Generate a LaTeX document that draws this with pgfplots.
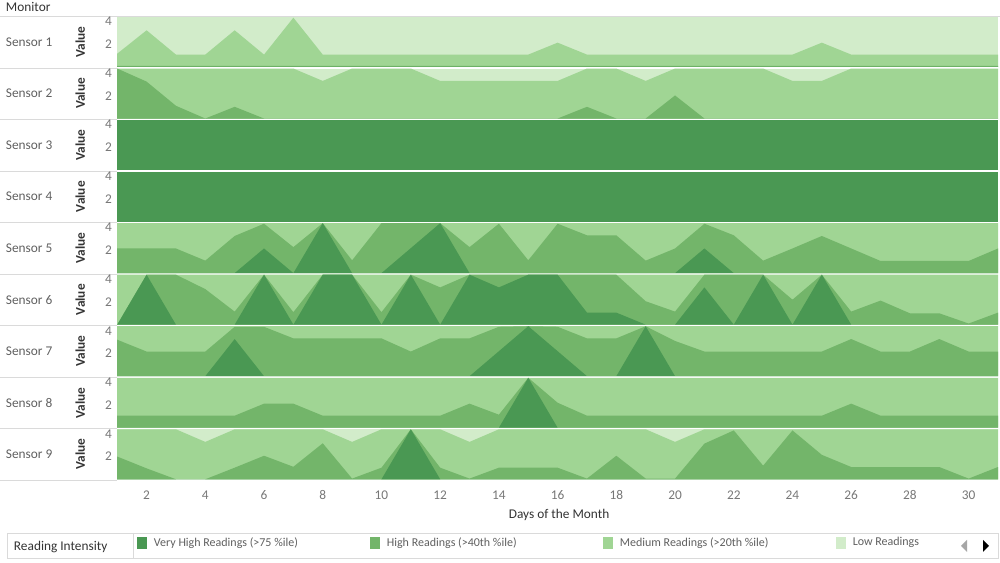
\documentclass[border=0pt]{standalone}
\usepackage{pgfplots}
\pgfplotsset{compat=1.18}
\usepackage{pgfplotstable}
\usepackage{fontspec}
\setmainfont{Carlito}

\definecolor{vhigh}{HTML}{4A9853}
\definecolor{high}{HTML}{73B56A}
\definecolor{med}{HTML}{A0D594}
\definecolor{low}{HTML}{D2ECCA}
\definecolor{lblgray}{HTML}{606060}
\definecolor{tickgray}{HTML}{777777}
\definecolor{sepgray}{HTML}{DADADA}

% columns: day, top of medium, top of high, top of very high
\pgfplotstableread{
d m h v
1 1.17 0.1 0
2 3.23 0.1 0
3 1.09 0.1 0
4 1.09 0.1 0
5 3.23 0.1 0
6 1.09 0.1 0
7 4.34 0.1 0
8 1.09 0.1 0
9 1.09 0.1 0
10 1.09 0.1 0
11 1.09 0.1 0
12 1.09 0.1 0
13 1.09 0.1 0
14 1.09 0.1 0
15 1.09 0.1 0
16 2.14 0.1 0
17 1.09 0.1 0
18 1.09 0.1 0
19 1.09 0.1 0
20 1.09 0.1 0
21 1.09 0.1 0
22 1.09 0.1 0
23 1.09 0.1 0
24 1.09 0.1 0
25 2.14 0.1 0
26 1.09 0.1 0
27 1.09 0.1 0
28 1.09 0.1 0
29 1.09 0.1 0
30 1.09 0.1 0
31 1.09 0.1 0
}\sone

\pgfplotstableread{
d m h v
1 4.4 4.4 0
2 4.4 3.25 0
3 4.4 1.12 0
4 4.4 0 0
5 4.4 1.03 0
6 4.4 0 0
7 4.4 0 0
8 3.31 0 0
9 4.4 0 0
10 4.4 0 0
11 4.4 0 0
12 3.31 0 0
13 3.31 0 0
14 3.31 0 0
15 3.31 0 0
16 3.31 0 0
17 4.4 1.03 0
18 4.4 0 0
19 3.31 0 0
20 4.4 2.03 0
21 4.4 0 0
22 4.4 0 0
23 4.4 0 0
24 3.31 0 0
25 3.31 0 0
26 4.4 0 0
27 4.4 0 0
28 4.4 0 0
29 4.4 0 0
30 4.4 0 0
31 4.4 0 0
}\stwo

\pgfplotstableread{
d m h v
1 4.4 4.4 4.4
31 4.4 4.4 4.4
}\sthree

\pgfplotstableread{
d m h v
1 4.4 4.4 4.4
31 4.4 4.4 4.4
}\sfour

\pgfplotstableread{
d m h v
1 4.4 2.17 0
2 4.4 2.17 0
3 4.4 2.17 0
4 4.4 1.1 0
5 4.4 3.27 0
6 4.4 4.35 2.17
7 4.4 2.29 0
8 4.4 4.4 4.4
9 4.4 1.13 0
10 4.4 4.4 0
11 4.4 4.4 2.2
12 4.4 4.4 4.4
13 4.4 2.29 0
14 4.4 4.35 0
15 4.4 1.13 0
16 4.4 4.35 0
17 4.4 3.33 0
18 4.4 3.33 0
19 4.4 1.1 0
20 4.4 2.17 0
21 4.4 4.35 2.17
22 4.4 3.33 0
23 4.4 1.1 0
24 4.4 2.17 0
25 4.4 3.27 0
26 4.4 2.17 0
27 4.4 1.07 0
28 4.4 1.07 0
29 4.4 1.07 0
30 4.4 1.07 0
31 4.4 2.17 0
}\sfive

\pgfplotstableread{
d m h v
1 4.4 0 0
2 4.4 4.4 4.4
3 4.4 4.4 0
4 4.4 3.13 0
5 4.4 1.15 0
6 4.4 4.4 4.4
7 4.4 1.1 0
8 4.4 4.4 4.4
9 4.4 4.4 4.4
10 4.4 1.1 0
11 4.4 4.4 4.4
12 4.4 3.28 0
13 4.4 4.4 4.4
14 4.4 4.4 3.28
15 4.4 4.4 4.4
16 4.4 4.4 4.4
17 4.4 4.4 1.06
18 4.4 4.4 1.06
19 4.4 2.06 0
20 4.4 1.15 0
21 4.4 4.4 3.28
22 4.4 4.4 0
23 4.4 4.4 4.4
24 4.4 2.2 0
25 4.4 4.4 4.4
26 4.4 1.15 0
27 4.4 2.12 0
28 4.4 1.0 0
29 4.4 1.0 0
30 4.4 0.1 0
31 4.4 1.06 0
}\ssix

\pgfplotstableread{
d m h v
1 4.4 3.21 0
2 4.4 2.17 0
3 4.4 2.17 0
4 4.4 2.17 0
5 4.4 4.35 3.27
6 4.4 4.35 0
7 4.4 3.33 0
8 4.4 3.33 0
9 4.4 3.33 0
10 4.4 3.33 0
11 4.4 2.17 0
12 4.4 3.33 0
13 4.4 3.33 0
14 4.4 4.35 2.2
15 4.4 4.4 4.4
16 4.4 4.35 2.2
17 4.4 3.33 0
18 4.4 3.33 0
19 4.4 4.4 4.4
20 4.4 3.1 0
21 4.4 2.17 0
22 4.4 2.17 0
23 4.4 2.17 0
24 4.4 2.17 0
25 4.4 2.17 0
26 4.4 3.27 0
27 4.4 2.17 0
28 4.4 2.17 0
29 4.4 3.27 0
30 4.4 2.17 0
31 4.4 2.17 0
}\sseven

\pgfplotstableread{
d m h v
1 4.4 1.06 0
2 4.4 1.06 0
3 4.4 1.06 0
4 4.4 1.06 0
5 4.4 1.06 0
6 4.4 2.12 0
7 4.4 2.12 0
8 4.4 1.06 0
9 4.4 1.06 0
10 4.4 1.06 0
11 4.4 1.06 0
12 4.4 1.06 0
13 4.4 2.12 0
14 4.4 1.15 0
15 4.4 4.4 4.4
16 4.4 2.2 0
17 4.4 1.06 0
18 4.4 1.06 0
19 4.4 1.06 0
20 4.4 1.06 0
21 4.4 1.06 0
22 4.4 1.06 0
23 4.4 1.06 0
24 4.4 1.06 0
25 4.4 1.06 0
26 4.4 2.12 0
27 4.4 1.06 0
28 4.4 1.06 0
29 4.4 1.06 0
30 4.4 1.06 0
31 4.4 1.06 0
}\seight

\pgfplotstableread{
d m h v
1 4.4 2.0 0
2 4.4 0.96 0
3 4.4 0 0
4 3.29 0 0
5 4.4 1.02 0
6 4.4 2.07 0
7 4.4 1.1 0
8 4.4 3.17 0
9 3.29 0.06 0
10 4.4 1.02 0
11 4.4 4.4 4.4
12 4.4 1.02 0
13 3.29 0.06 0
14 4.4 1.02 0
15 4.4 1.02 0
16 4.4 1.02 0
17 4.4 0.06 0
18 4.4 2.07 0
19 4.4 0.06 0
20 3.29 0.06 0
21 4.4 3.14 0
22 4.4 4.3 0
23 4.4 1.2 0
24 4.4 4.3 0
25 4.4 2.15 0
26 4.4 1.08 0
27 4.4 1.08 0
28 4.4 1.08 0
29 4.4 1.08 0
30 4.4 0.06 0
31 4.4 1.08 0
}\snine

\pgfplotsset{
  panel/.style={
    scale only axis, width=660.75pt, height=37.5pt,
    anchor=north west,
    xmin=1, xmax=31, ymin=0, ymax=4.4,
    axis line style={draw=none},
    axis background/.style={fill=low},
    ytick={2,4}, xtick=\empty,
    major tick length=0pt,
    /pgf/number format/assume math mode=true,
    yticklabel style={font=\fontsize{10}{11}\selectfont, text=tickgray, xshift=-0.5pt},
    xticklabel style={font=\fontsize{10}{11}\selectfont, text=tickgray, yshift=-5pt},
  },
}

% #1 table, #2 top edge in px (from the top of the picture), #3 label, #4 extra axis keys
\newcommand{\panel}[4]{%
  \begin{axis}[panel, at={(87.75pt,{-0.75pt*(#2)})}, #4]
    \addplot[fill=med, draw=none] table[x=d, y=m] {#1} \closedcycle;
    \addplot[fill=high, draw=none] table[x=d, y=h] {#1} \closedcycle;
    \addplot[fill=vhigh, draw=none] table[x=d, y=v] {#1} \closedcycle;
  \end{axis}
  \begin{scope}[x=0.75pt, y=-0.75pt]
    \node[anchor=west, text=lblgray, font=\fontsize{10}{12}\selectfont] at (1, #2+25) {#3};
    \node[rotate=90, font=\bfseries\fontsize{10}{12}\selectfont, text=black!80] at (80, #2+25) {Value};
    \draw[sepgray] (0, #2+50.8) -- (117, #2+50.8);
  \end{scope}
}

\begin{document}
\begin{tikzpicture}
  \begin{scope}[x=0.75pt, y=-0.75pt]
    \path[use as bounding box] (0,0) rectangle (1000,563);
    \node[anchor=west, text=black!80, font=\fontsize{10}{12}\selectfont] at (1,7) {Monitor};
    \draw[sepgray] (0,15.8) -- (1000,15.8);
  \end{scope}

  \panel{\sone}{17}{Sensor 1}{}
  \panel{\stwo}{68.55}{Sensor 2}{}
  \panel{\sthree}{120.1}{Sensor 3}{}
  \panel{\sfour}{171.65}{Sensor 4}{}
  \panel{\sfive}{223.2}{Sensor 5}{}
  \panel{\ssix}{274.75}{Sensor 6}{}
  \panel{\sseven}{326.3}{Sensor 7}{}
  \panel{\seight}{377.85}{Sensor 8}{}
  \panel{\snine}{429.4}{Sensor 9}{xtick={2,4,...,30}}

  \begin{scope}[x=0.75pt, y=-0.75pt]
    \node[text=black!80, font=\fontsize{10}{12}\selectfont] at (559,515) {Days of the Month};
    % legend
    \draw[sepgray, fill=white] (7,533) rectangle (998,558);
    \draw[sepgray] (133,533) -- (133,558);
    \node[anchor=west, text=black!80, font=\fontsize{10}{12}\selectfont] at (9,547) {Reading Intensity};
    \fill[vhigh] (137,537) rectangle (147,549);
    \node[anchor=west, text=lblgray, font=\fontsize{9}{10}\selectfont] at (149,543) {Very High Readings (>75 \%ile)};
    \fill[high] (370,537) rectangle (380,549);
    \node[anchor=west, text=lblgray, font=\fontsize{9}{10}\selectfont] at (382,543) {High Readings (>40th \%ile)};
    \fill[med] (603,537) rectangle (613,549);
    \node[anchor=west, text=lblgray, font=\fontsize{9}{10}\selectfont] at (615,543) {Medium Readings (>20th \%ile)};
    \fill[low] (836,537) rectangle (846,549);
    \node[anchor=west, text=lblgray, font=\fontsize{9}{10}\selectfont] at (848,543) {Low Readings};
    \fill[black!35] (967,540) -- (961,546) -- (967,552) -- cycle;
    \fill[black] (983,540) -- (989,546) -- (983,552) -- cycle;
  \end{scope}
\end{tikzpicture}
\end{document}
